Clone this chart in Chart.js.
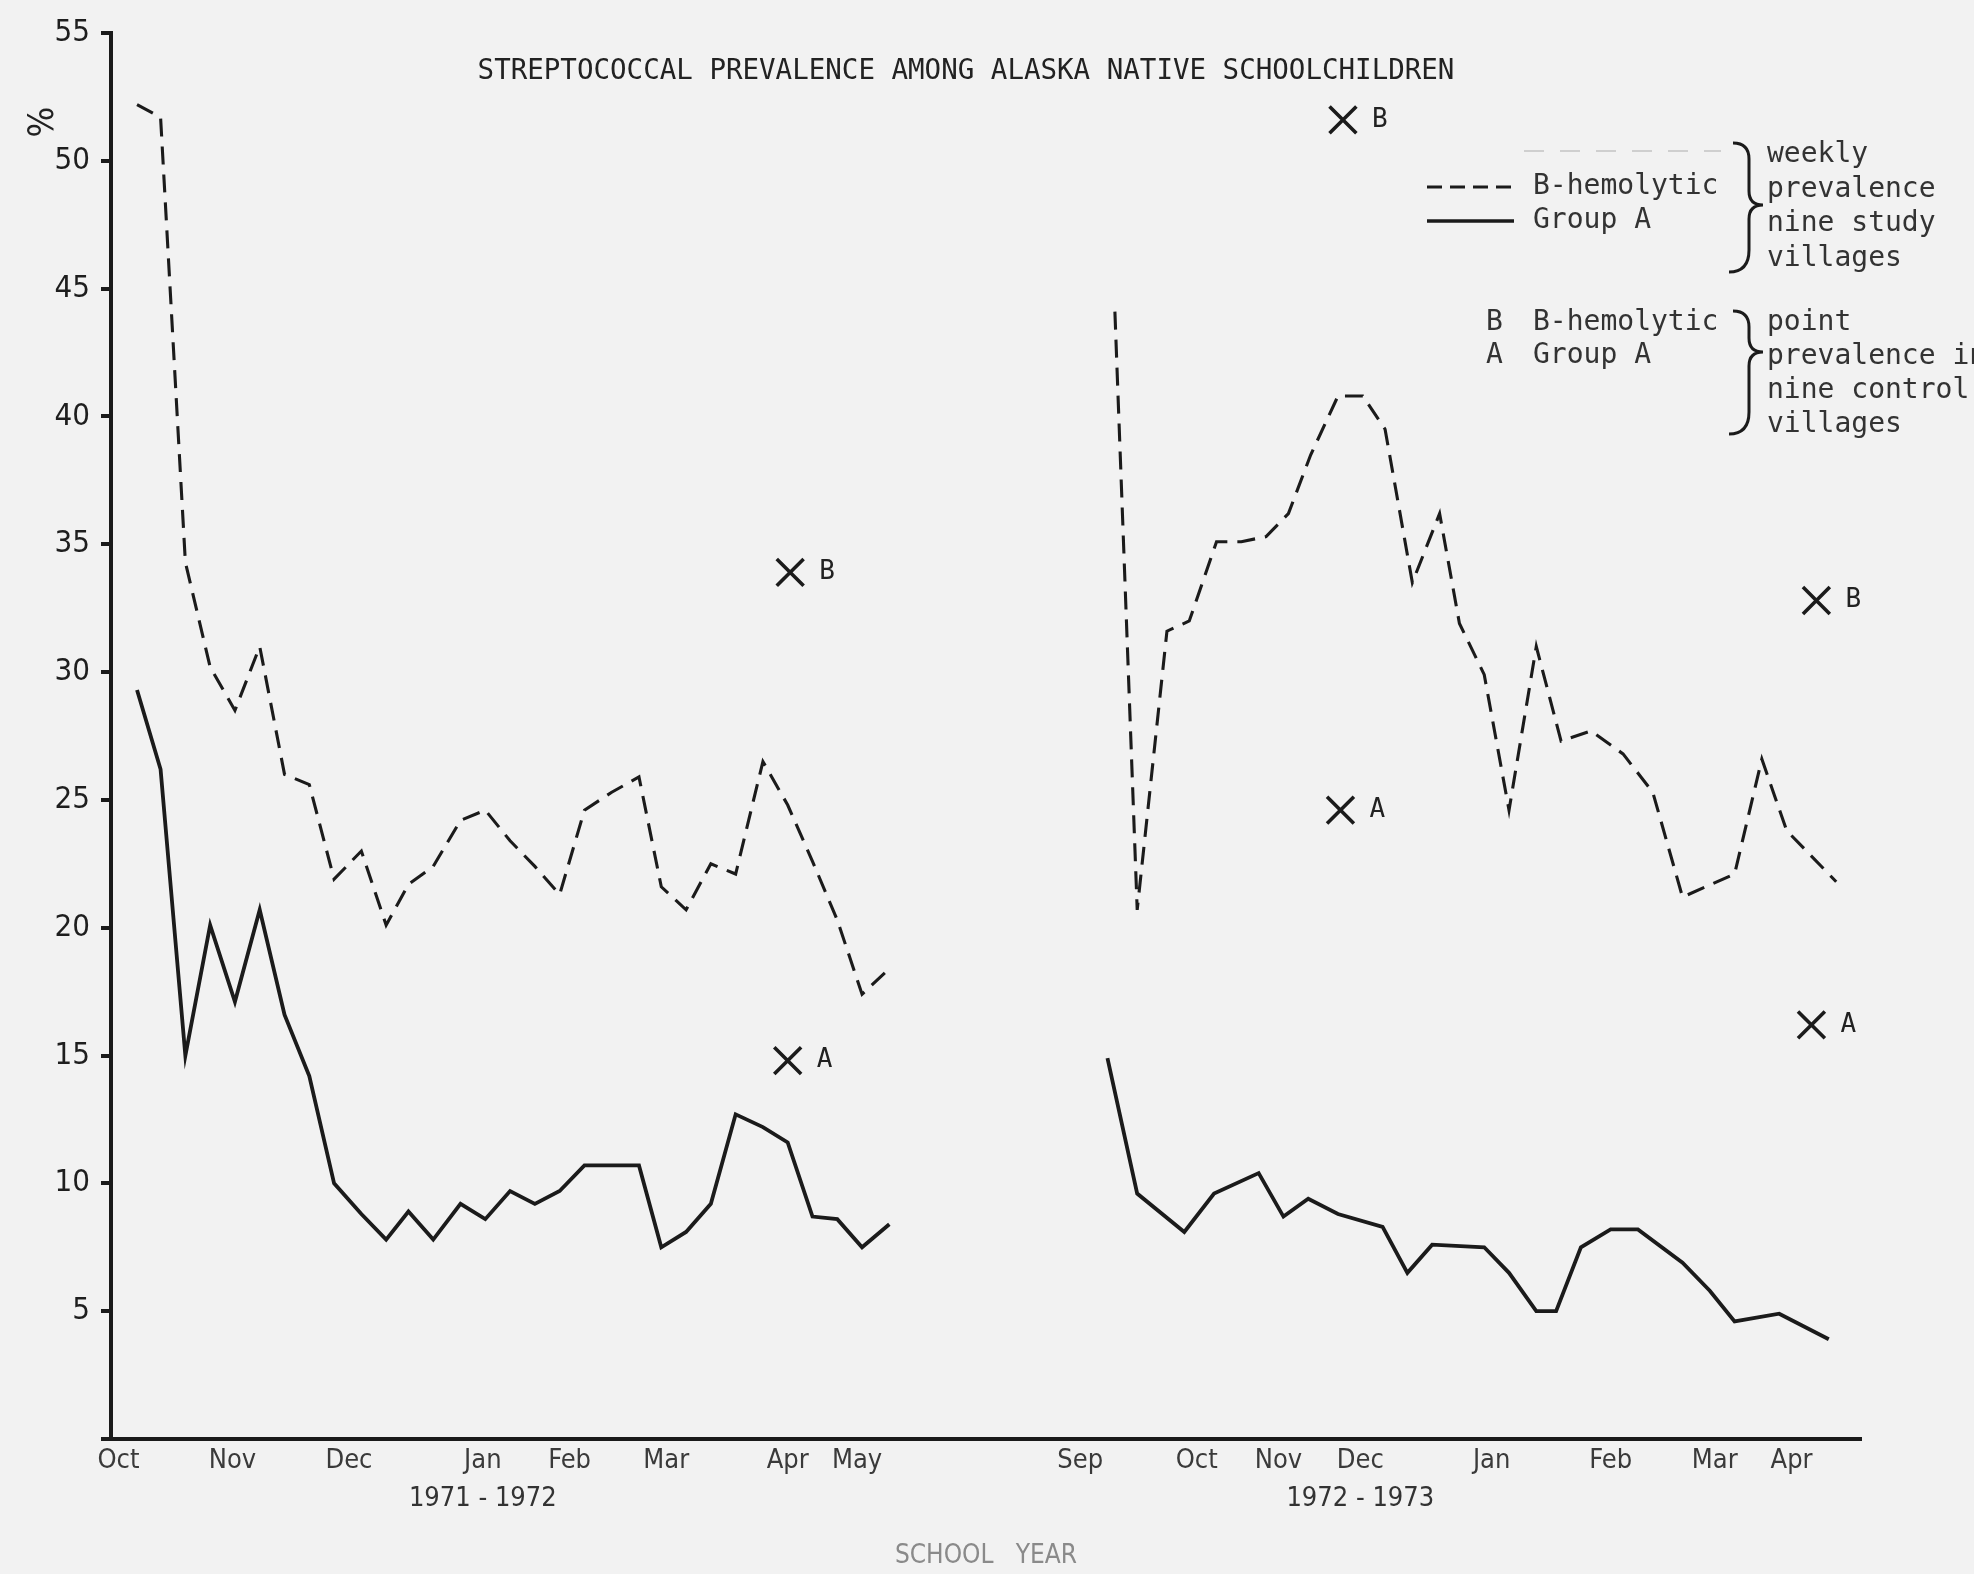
<!DOCTYPE html>
<html>
<head>
<meta charset="utf-8">
<title>Streptococcal prevalence among Alaska native schoolchildren</title>
<script src="https://cdn.jsdelivr.net/npm/chart.js@4.4.1/dist/chart.umd.min.js"></script>
<style>
  html, body { margin: 0; padding: 0; background: #f2f2f2; }
  #wrap { width: 1974px; height: 1574px; position: relative; }
  canvas { display: block; }
</style>
</head>
<body>
<div id="wrap"><canvas id="chart" width="1974" height="1574"></canvas></div>
<script>
// ---- weekly prevalence (%), nine study villages ----
// x values are school weeks counted from the start of October 1971
// (the summer months between the two school years are left out)
const weeks1971 = [1.05, 2.0, 3.0, 4.0, 5.0, 6.0, 7.0, 8.0, 9.0, 10.1, 11.1, 12.0, 13.0, 14.1, 15.1, 16.1,
                   17.1, 18.1, 19.1, 20.2, 21.3, 22.2, 23.2, 24.2, 25.2, 26.3, 27.3, 28.3, 29.3, 30.3, 31.4];
const betaHemolytic1971 = [52.2, 51.7, 34.3, 30.2, 28.5, 31.0, 26.0, 25.6, 21.9, 23.0, 20.1, 21.7, 22.4, 24.2, 24.6, 23.4,
                           22.4, 21.3, 24.6, 25.3, 25.9, 21.6, 20.7, 22.5, 22.1, 26.5, 24.8, 22.6, 20.3, 17.4, 18.4];
const groupA1971 = [29.3, 26.2, 15.0, 20.1, 17.1, 20.7, 16.6, 14.2, 10.0, 8.8, 7.8, 8.9, 7.8, 9.2, 8.6, 9.7,
                    9.2, 9.7, 10.7, 10.7, 10.7, 7.5, 8.1, 9.2, 12.7, 12.2, 11.6, 8.7, 8.6, 7.5, 8.4];

const betaWeeks1972 = [40.5, 41.4, 42.6, 43.5, 44.6, 45.6, 46.6, 47.5, 48.4, 49.5, 50.5, 51.4, 52.5, 53.6,
                       54.4, 55.4, 56.4, 57.5, 58.5, 59.7, 61.0, 62.2, 63.4, 65.5, 66.6, 67.6, 69.6];
const betaHemolytic1972 = [44.1, 20.7, 31.6, 32.0, 35.1, 35.1, 35.3, 36.2, 38.5, 40.8, 40.8, 39.5, 33.5, 36.2,
                           31.9, 29.9, 24.6, 31.0, 27.3, 27.7, 26.8, 25.3, 21.2, 22.1, 26.6, 23.8, 21.8];
const groupAWeeks1972 = [40.2, 41.4, 43.3, 44.5, 46.3, 47.3, 48.3, 49.5, 51.3, 52.3, 53.3, 55.4,
                         56.4, 57.5, 58.3, 59.3, 60.5, 61.6, 63.4, 64.5, 65.5, 67.3, 69.3];
const groupA1972 = [14.9, 9.6, 8.1, 9.6, 10.4, 8.7, 9.4, 8.8, 8.3, 6.5, 7.6, 7.5,
                    6.5, 5.0, 5.0, 7.5, 8.2, 8.2, 6.9, 5.8, 4.6, 4.9, 3.9];

// ---- point prevalence (%), nine control villages ----
const controlWeeks  = [27.4, 27.3, 49.7, 49.6, 68.8, 68.6];
const controlValues = [33.9, 14.8, 51.6, 24.6, 32.8, 16.2];
const controlTags   = ['B', 'A', 'B', 'A', 'B', 'A'];

// ---- axis labels ----
const monthWeeks  = [0.3, 4.9, 9.6, 15.0, 18.5, 22.4, 27.3, 30.1, 39.1, 43.8, 47.1, 50.4, 55.7, 60.5, 64.7, 67.8];
const monthLabels = ['Oct', 'Nov', 'Dec', 'Jan', 'Feb', 'Mar', 'Apr', 'May',
                     'Sep', 'Oct', 'Nov', 'Dec', 'Jan', 'Feb', 'Mar', 'Apr'];
const schoolYears = ['1971 - 1972', '1972 - 1973'];
const schoolYearWeeks = [15.0, 50.4];
const yTickValues = [0, 5, 10, 15, 20, 25, 30, 35, 40, 45, 50, 55];

const INK = '#1b1b1b';
const MONO = "'DejaVu Sans Mono', 'Liberation Mono', monospace";
const NARROW = "'DejaVu Sans Condensed', 'DejaVu Sans', sans-serif";

const pairs = (xs, ys) => xs.map((x, i) => ({ x: x, y: ys[i] }));

// paper background
const paper = {
  id: 'paper',
  beforeDraw(chart) {
    const { ctx, width, height } = chart;
    ctx.save();
    ctx.fillStyle = '#f2f2f2';
    ctx.fillRect(0, 0, width, height);
    ctx.restore();
  }
};

// curly brace pointing right
function brace(ctx, xl, top, mid, bottom) {
  const xs = xl + 16, xp = xl + 30;
  ctx.beginPath();
  ctx.moveTo(xl, top);
  ctx.quadraticCurveTo(xs, top, xs, top + 16);
  ctx.lineTo(xs, mid - 14);
  ctx.quadraticCurveTo(xs, mid, xp, mid);
  ctx.quadraticCurveTo(xs, mid, xs, mid + 14);
  ctx.lineTo(xs, bottom - 22);
  ctx.quadraticCurveTo(xs, bottom, xl - 4, bottom);
  ctx.stroke();
}

// title, key, year captions and the control-village tags
const annotations = {
  id: 'annotations',
  afterDraw(chart) {
    const { ctx } = chart;
    const xs = chart.scales.x;
    ctx.save();

    // title
    ctx.fillStyle = '#222';
    ctx.font = '27.5px ' + MONO;
    ctx.textAlign = 'center';
    ctx.textBaseline = 'middle';
    ctx.fillText('STREPTOCOCCAL PREVALENCE AMONG ALASKA NATIVE SCHOOLCHILDREN', 966, 72);

    // unit sign beside the value axis
    ctx.save();
    ctx.translate(44, 122);
    ctx.rotate(-Math.PI / 2);
    ctx.font = '36px ' + NARROW;
    ctx.fillStyle = '#222';
    ctx.fillText('%', 0, 0);
    ctx.restore();

    // school-year captions under the month labels
    ctx.font = '27px ' + NARROW;
    ctx.fillStyle = '#333';
    schoolYears.forEach((t, i) => {
      ctx.fillText(t, xs.getPixelForValue(schoolYearWeeks[i]), 1499);
    });

    // key
    ctx.font = '28px ' + MONO;
    ctx.textAlign = 'left';
    ctx.fillStyle = '#333';
    ctx.strokeStyle = INK;

    ctx.save();
    ctx.strokeStyle = '#cfcfcf';
    ctx.lineWidth = 2;
    ctx.setLineDash([20, 16]);
    ctx.beginPath(); ctx.moveTo(1524, 151); ctx.lineTo(1721, 151); ctx.stroke();
    ctx.restore();

    ctx.lineWidth = 3;
    ctx.setLineDash([15, 8]);
    ctx.beginPath(); ctx.moveTo(1427, 187); ctx.lineTo(1514, 187); ctx.stroke();
    ctx.setLineDash([]);
    ctx.lineWidth = 3.4;
    ctx.beginPath(); ctx.moveTo(1427, 221); ctx.lineTo(1514, 221); ctx.stroke();

    ctx.fillText('B-hemolytic', 1533, 187);
    ctx.fillText('Group A', 1533, 221);
    ctx.lineWidth = 3;
    brace(ctx, 1733, 143, 205, 272);
    ['weekly', 'prevalence', 'nine study', 'villages'].forEach((t, i) => {
      ctx.fillText(t, 1767, 155 + i * 34.5);
    });

    ctx.fillText('B', 1486, 323);
    ctx.fillText('A', 1486, 356);
    ctx.fillText('B-hemolytic', 1533, 323);
    ctx.fillText('Group A', 1533, 356);
    brace(ctx, 1733, 311, 352, 434);
    ['point', 'prevalence in', 'nine control', 'villages'].forEach((t, i) => {
      ctx.fillText(t, 1767, 323 + i * 34);
    });

    // letters beside the control-village crosses
    const meta = chart.getDatasetMeta(4);
    ctx.font = '26px ' + MONO;
    ctx.fillStyle = '#222';
    meta.data.forEach((pt, i) => {
      ctx.fillText(controlTags[i], pt.x + 29, pt.y);
    });

    ctx.restore();
  }
};

const dashed = { borderColor: INK, borderWidth: 3.1, borderDash: [18, 10], pointRadius: 0, tension: 0, fill: false };
const solid  = { borderColor: INK, borderWidth: 3.8, pointRadius: 0, tension: 0, fill: false };

new Chart(document.getElementById('chart'), {
  type: 'line',
  data: {
    datasets: [
      Object.assign({ label: 'B-hemolytic 1971-72', data: pairs(weeks1971, betaHemolytic1971) }, dashed),
      Object.assign({ label: 'Group A 1971-72', data: pairs(weeks1971, groupA1971) }, solid),
      Object.assign({ label: 'B-hemolytic 1972-73', data: pairs(betaWeeks1972, betaHemolytic1972) }, dashed),
      Object.assign({ label: 'Group A 1972-73', data: pairs(groupAWeeks1972, groupA1972) }, solid),
      {
        label: 'Control villages',
        data: pairs(controlWeeks, controlValues),
        showLine: false,
        pointStyle: 'crossRot',
        pointRadius: 19,
        pointBorderWidth: 3.6,
        pointBorderColor: INK,
        pointBackgroundColor: INK
      }
    ]
  },
  options: {
    responsive: false,
    animation: false,
    devicePixelRatio: 1,
    layout: { padding: { top: 33, right: 113, left: 0, bottom: 0 } },
    plugins: { legend: { display: false }, tooltip: { enabled: false }, title: { display: false } },
    scales: {
      x: {
        type: 'linear',
        min: 0,
        max: 70.6,
        afterBuildTicks(scale) { scale.ticks = monthWeeks.map(v => ({ value: v })); },
        afterFit(scale) { scale.height = 135; },
        grid: { display: false, drawTicks: false },
        border: { display: true, color: INK, width: 4 },
        ticks: {
          autoSkip: false,
          maxRotation: 0,
          minRotation: 0,
          padding: 6,
          color: '#3a3a3a',
          font: { family: NARROW, size: 27 },
          callback: (v, i) => monthLabels[i]
        },
        title: {
          display: true,
          text: 'SCHOOL   YEAR',
          color: '#8a8a8a',
          font: { family: NARROW, size: 26 },
          padding: { top: 0, bottom: 2 }
        }
      },
      y: {
        min: 0,
        max: 55,
        afterBuildTicks(scale) { scale.ticks = yTickValues.map(v => ({ value: v })); },
        afterFit(scale) { scale.width = 111; },
        grid: { drawOnChartArea: false, drawTicks: true, tickLength: 10, color: INK, lineWidth: 4 },
        border: { display: true, color: INK, width: 4 },
        ticks: {
          padding: 11,
          color: '#1e1e1e',
          font: { family: NARROW, size: 31 },
          callback: v => (v === 0 ? '' : String(v))
        }
      }
    }
  },
  plugins: [paper, annotations]
});
</script>
</body>
</html>
